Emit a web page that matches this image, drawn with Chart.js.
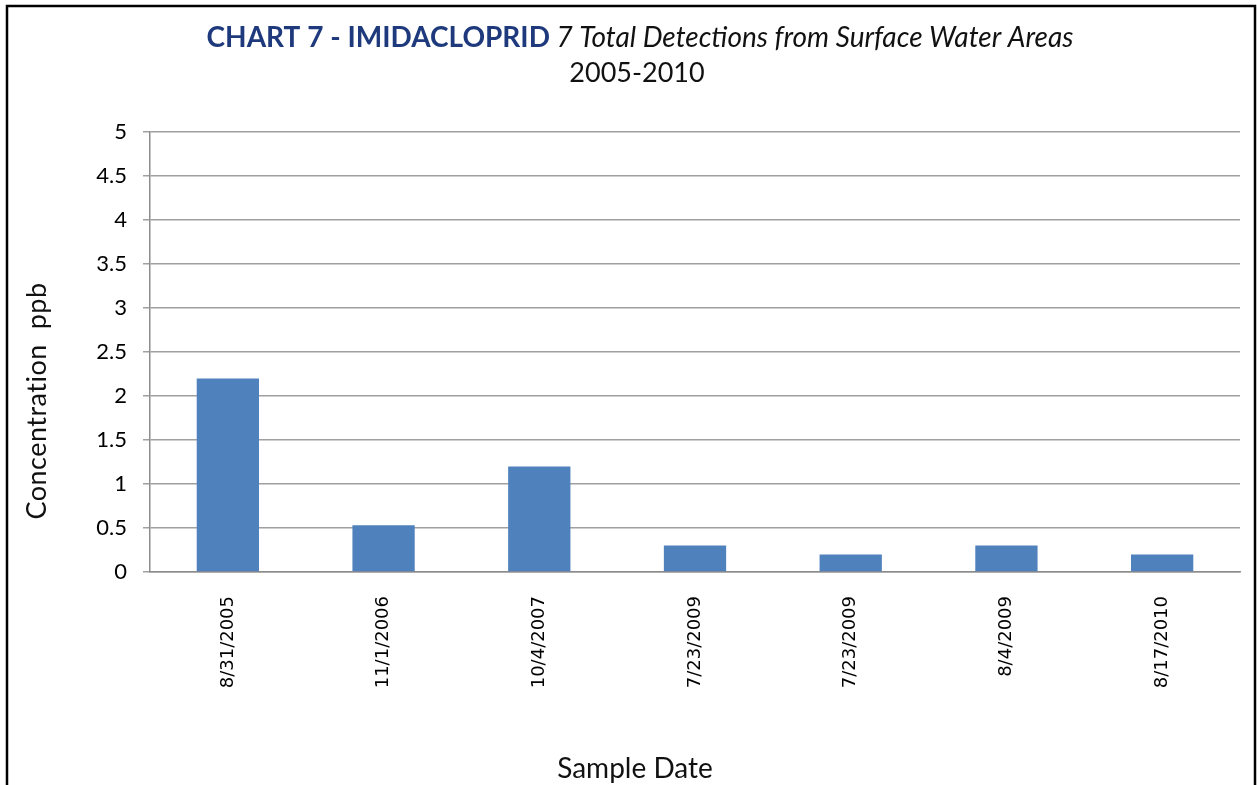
<!DOCTYPE html>
<html>
<head>
<meta charset="utf-8">
<script src="https://cdn.jsdelivr.net/npm/chart.js@4"></script>
<style>
    body { margin: 0; background: #ffffff; }
    #wrap { width: 1257px; height: 785px; }
</style>
</head>
<body>
<div id="wrap"><canvas id="imidaChart" width="1257" height="785"></canvas></div>
<script>
/* Chart data */

const sampleDates = ["8/31/2005", "11/1/2006", "10/4/2007", "7/23/2009", "7/23/2009", "8/4/2009", "8/17/2010"];
const concentrations = [2.2, 0.53, 1.2, 0.3, 0.2, 0.3, 0.2];

const titleBold = "CHART 7 - IMIDACLOPRID";
const titleItalic = " 7 Total Detections from Surface Water Areas";
const subTitle = "2005-2010";
const yTitle = "Concentration  ppb";
const xTitle = "Sample Date";

const calibriLike = "Lato, 'Open Sans', sans-serif";
const axisGrey = "#8c8c8c";

/* Frame, titles and axis titles */

const decorations = {
    id: "decorations",
    afterDraw(chart) {
        const c = chart.ctx;
        c.save();

        // outer frame
        c.strokeStyle = "#000";
        c.lineWidth = 2.5;
        c.strokeRect(7, 6, 1248, 820);

        // title line 1 - mixed styles
        c.textBaseline = "middle";
        c.font = "bold 28px " + calibriLike;
        const wb = c.measureText(titleBold).width;
        c.font = "italic 28px " + calibriLike;
        const wi = c.measureText(titleItalic).width;
        let x = 640 - (wb + wi) / 2;
        c.textAlign = "left";
        c.font = "bold 28px " + calibriLike;
        c.fillStyle = "#1f3a7c";
        c.fillText(titleBold, x, 38);
        c.font = "italic 28px " + calibriLike;
        c.fillStyle = "#111";
        c.fillText(titleItalic, x + wb, 38);

        // title line 2
        c.textAlign = "center";
        c.font = "27px " + calibriLike;
        c.fillText(subTitle, 637, 73);

        // axis titles
        c.font = "28px " + calibriLike;
        c.fillText(xTitle, 635, 769);
        c.translate(37, 401);
        c.rotate(-Math.PI / 2);
        c.font = "27px " + calibriLike;
        c.letterSpacing = "0.5px";
        c.fillText(yTitle, 0, 0);

        c.restore();
    }
};

/* Create Chart */

const ctx = document.getElementById("imidaChart");

new Chart(ctx, {
    type: "bar",
    data: {
        labels: sampleDates,
        datasets: [{
            label: "Concentration",
            data: concentrations,
            backgroundColor: "#4f81bd",
            borderWidth: 0,
            categoryPercentage: 1,
            barPercentage: 0.4
        }]
    },
    options: {
        responsive: false,
        animation: false,
        layout: {
            padding: { top: 132, right: 17, bottom: 0, left: 0 }
        },
        plugins: {
            legend: { display: false },
            title: { display: false },
            tooltip: { enabled: false }
        },
        scales: {
            x: {
                grid: { display: false, drawTicks: false },
                border: { display: true, color: axisGrey, width: 1.5 },
                ticks: {
                    minRotation: 90,
                    maxRotation: 90,
                    padding: 24,
                    color: "#000",
                    font: { family: "'DejaVu Sans', Verdana, sans-serif", size: 18 }
                },
                afterFit: scale => { scale.height = 213; }
            },
            y: {
                min: 0,
                max: 5,
                grid: { color: "#a0a0a0", lineWidth: 1.5, tickLength: 7 },
                border: { color: axisGrey, width: 1.5 },
                ticks: {
                    stepSize: 0.5,
                    padding: 16,
                    color: "#000",
                    font: { family: calibriLike, size: 22 },
                    callback: value => String(value)
                },
                afterFit: scale => { scale.width = 150; }
            }
        }
    },
    plugins: [decorations]
});
</script>
</body>
</html>
